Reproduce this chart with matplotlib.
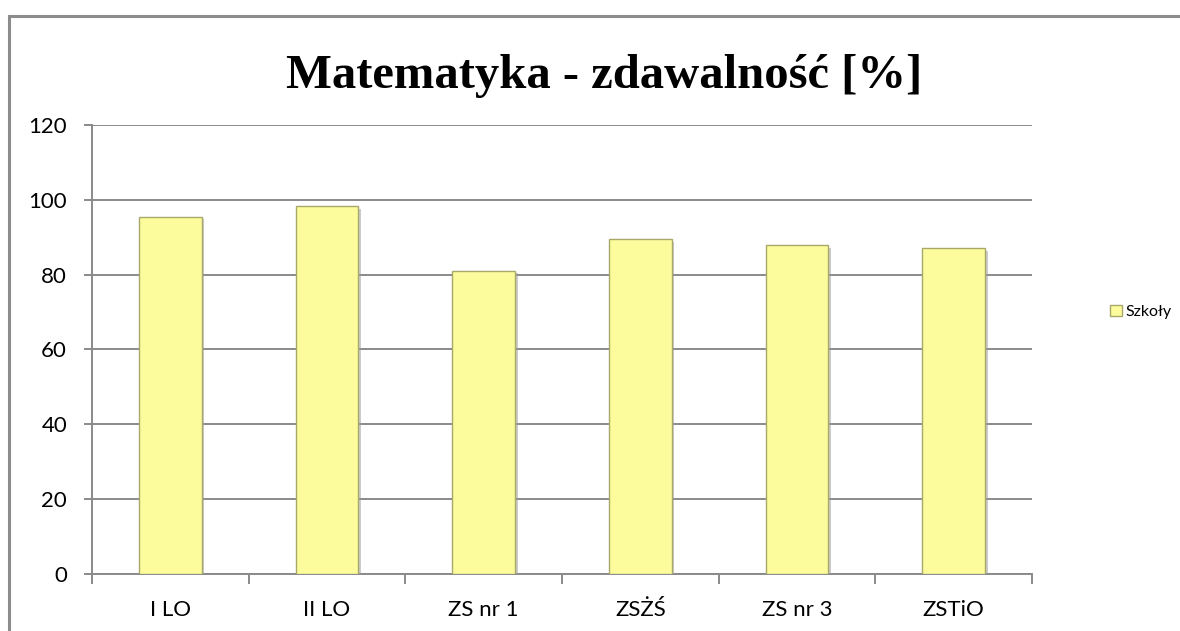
import numpy as np
import matplotlib.pyplot as plt
import matplotlib.patheffects as pe
from matplotlib.patches import Rectangle, Patch

# Data
schools = ['I LO', 'II LO', 'ZS nr 1', 'ZSŻŚ', 'ZS nr 3', 'ZSTiO']
pass_rate = [95.5, 98.4, 81.1, 89.5, 87.9, 87.1]
yticks = [0, 20, 40, 60, 80, 100, 120]

fig = plt.figure(figsize=(11.8, 6.31), dpi=100)
ax = fig.add_axes([0.078, 0.0903, 0.7966, 0.7117])

# outer chart frame (cut off at right and bottom)
fig.patches.append(Rectangle((9 / 1180, -0.1), 1.2, 1 - 15.5 / 631 + 0.1,
                             transform=fig.transFigure, fill=False,
                             edgecolor='#8c8c8c', lw=2.2))

x = np.arange(len(schools))
bars = ax.bar(x, pass_rate, width=0.4, color='#fcfc9c', edgecolor='#a8a86a',
              linewidth=1.0, zorder=3)
for b in bars:
    b.set_path_effects([pe.SimplePatchShadow(offset=(2, -2), shadow_rgbFace='#999999', alpha=0.5),
                        pe.Normal()])

ax.set_xlim(-0.5, len(schools) - 0.5)
ax.set_ylim(0, 120)
ax.set_yticks(yticks)
ax.yaxis.grid(True, color='#8a8a8a', lw=1.4, zorder=0)
ax.set_axisbelow(True)

ax.set_xticks(x)
ax.set_xticklabels(schools, fontsize=16, family='Lato')
ax.tick_params(axis='x', which='major', length=0, pad=19)
ax.set_xticks(np.arange(-0.5, len(schools)), minor=True)
ax.tick_params(axis='x', which='minor', length=7, width=1.4, color='#8a8a8a', direction='out')
ax.tick_params(axis='y', length=6, width=1.4, color='#8a8a8a', pad=12)
for lab in ax.get_yticklabels():
    lab.set_fontsize(16)
    lab.set_family('Lato')

for s in ['top', 'right']:
    ax.spines[s].set_visible(False)
for s in ['left', 'bottom']:
    ax.spines[s].set_color('#8a8a8a')
    ax.spines[s].set_linewidth(1.4)

fig.text(0.512, 0.879, 'Matematyka - zdawalność [%]', ha='center', va='center',
         fontsize=35, fontweight='bold', family='Liberation Serif')

handle = Patch(facecolor='#fcfc9c', edgecolor='#a8a86a')
fig.legend([handle], ['Szkoły'], loc='center left', bbox_to_anchor=(0.941, 0.505),
           frameon=False, prop={'family': 'Lato', 'size': 11.5},
           handlelength=0.7, handleheight=0.7, handletextpad=0.25, borderpad=0,
           borderaxespad=0)

fig.savefig('out.png', dpi=100)
